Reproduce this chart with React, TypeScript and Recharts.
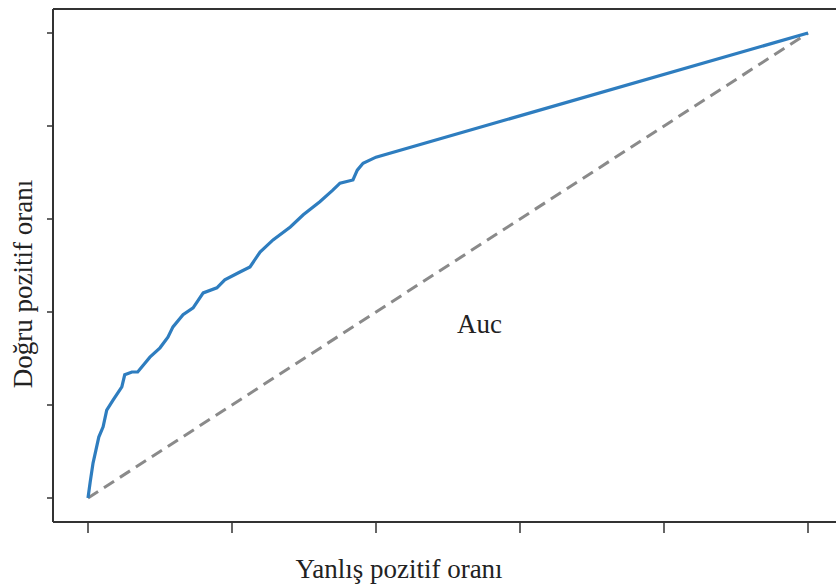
import React from 'react';
import { LineChart, Line, XAxis, YAxis, Label } from 'recharts';

// ROC curve (false positive rate, true positive rate)
const fpr = [
  0, 0.003, 0.007, 0.011, 0.015, 0.021, 0.026, 0.035, 0.047, 0.051, 0.061, 0.069,
  0.079, 0.086, 0.1, 0.111, 0.118, 0.132, 0.146, 0.16, 0.179, 0.19, 0.211, 0.225,
  0.239, 0.257, 0.281, 0.299, 0.322, 0.34, 0.35, 0.368, 0.374, 0.382, 0.4, 1,
];
const tpr = [
  0, 0.034, 0.075, 0.103, 0.131, 0.153, 0.189, 0.211, 0.239, 0.265, 0.271, 0.271,
  0.29, 0.303, 0.323, 0.346, 0.368, 0.394, 0.409, 0.441, 0.452, 0.469, 0.486, 0.497,
  0.529, 0.555, 0.583, 0.609, 0.637, 0.662, 0.677, 0.684, 0.705, 0.72, 0.733, 1,
];
const chanceX = [0, 1];
const chanceY = [0, 1];
const ticks = [0, 0.2, 0.4, 0.6, 0.8, 1];

const rocData = fpr.map((x, i) => ({ x, y: tpr[i] }));
const chanceData = chanceX.map((x, i) => ({ x, y: chanceY[i] }));

const FONT = '"Liberation Serif", "Times New Roman", serif';
const INK = '#333333';
const TEXT = '#222222';

// tick labels were blanked in the original, only the marks remain
const NoLabel = () => <g />;

export default function App() {
  return (
    <div style={{ position: 'absolute', left: 0, top: 0, background: '#fff' }}>
      <LineChart width={837} height={587} margin={{ top: 8, right: 1, left: 0, bottom: 0 }}>
        <XAxis
          xAxisId="top"
          orientation="top"
          type="number"
          dataKey="x"
          domain={[0, 1]}
          height={1}
          tick={false}
          tickLine={false}
          axisLine={{ stroke: INK, strokeWidth: 2 }}
        />
        <XAxis
          type="number"
          dataKey="x"
          domain={[0, 1]}
          ticks={ticks}
          padding={{ left: 35, right: 28 }}
          height={65}
          tick={NoLabel}
          tickSize={11}
          tickLine={{ stroke: INK, strokeWidth: 1.5 }}
          axisLine={{ stroke: INK, strokeWidth: 2 }}
        >
          <Label
            content={() => (
              <text x={399} y={578} textAnchor="middle" fontFamily={FONT} fontSize={27} fill={TEXT}>
                Yanlış pozitif oranı
              </text>
            )}
          />
        </XAxis>
        <YAxis
          type="number"
          domain={[0, 1]}
          ticks={ticks}
          padding={{ top: 24, bottom: 24 }}
          width={53}
          tick={NoLabel}
          tickSize={6}
          tickLine={{ stroke: INK, strokeWidth: 1.5 }}
          axisLine={{ stroke: INK, strokeWidth: 2 }}
        >
          <Label
            content={() => (
              <text
                x={32}
                y={284}
                textAnchor="middle"
                transform="rotate(-90, 32, 284)"
                fontFamily={FONT}
                fontSize={27}
                fill={TEXT}
              >
                Doğru pozitif oranı
              </text>
            )}
          />
        </YAxis>
        <Line
          data={chanceData}
          dataKey="y"
          type="linear"
          stroke="#8a8a8a"
          strokeWidth={3}
          strokeDasharray="12 7"
          dot={false}
          activeDot={false}
          isAnimationActive={false}
        />
        <Line
          data={rocData}
          dataKey="y"
          type="linear"
          stroke="#2e7dbf"
          strokeWidth={3.2}
          dot={false}
          activeDot={false}
          isAnimationActive={false}
        />
        <text x={457} y={333} fontFamily={FONT} fontSize={27} fill={TEXT}>
          Auc
        </text>
      </LineChart>
    </div>
  );
}
